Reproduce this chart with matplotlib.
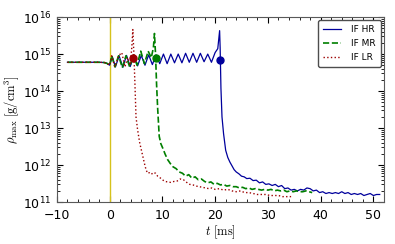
import numpy as np
import matplotlib
matplotlib.use("Agg")
import matplotlib.pyplot as plt
from matplotlib.ticker import MultipleLocator, LogLocator, NullFormatter

plt.rcParams['mathtext.fontset'] = 'cm'
plt.rcParams['font.family'] = 'DejaVu Sans'

# high resolution run
t_hr = [-8, -6, -4, -2, -1, -0.5, 0.0, 0.5, 1.1, 1.8, 2.5, 3.2, 3.9, 4.6, 5.3, 6.0, 6.7,
        7.4, 8.1, 8.8, 9.5, 10.2, 10.9, 11.6, 12.3, 13.0, 13.7, 14.4, 15.1, 15.8, 16.5,
        17.2, 17.9, 18.6, 19.3, 20.0, 20.5, 20.85, 20.95, 21.1, 21.3, 21.6, 22.0, 22.4,
        22.8, 23.2, 23.6, 24.0, 24.5, 25.0, 25.5, 26.0, 26.6, 27.2, 27.8, 28.4, 29.0,
        29.6, 30.2, 30.8, 31.4, 32.0, 32.6, 33.2, 33.8, 34.4, 35.0, 35.6, 36.2, 36.8,
        37.4, 38.0, 38.6, 39.2, 39.8, 40.4, 41.0, 41.6, 42.2, 42.8, 43.4, 44.0, 44.6,
        45.2, 45.8, 46.4, 47.0, 47.6, 48.2, 48.8, 49.4, 50.0, 50.6, 51.2]
rho_hr = [6.0e14, 6.0e14, 6.0e14, 6.0e14, 5.9e14, 5.6e14, 5.0e14, 8.5e14, 4.5e14, 9.0e14,
          4.4e14, 9.2e14, 4.6e14, 9.0e14, 4.8e14, 9.2e14, 5.0e14, 9.5e14, 5.2e14, 9.5e14,
          5.5e14, 1.0e15, 5.5e14, 1.0e15, 5.8e14, 1.0e15, 5.8e14, 1.05e15, 6.0e14, 1.05e15,
          6.0e14, 1.05e15, 6.2e14, 1.0e15, 6.0e14, 1.1e15, 1.4e15, 4.3e15, 1.5e15, 1.2e14,
          2.0e13, 7.0e12, 2.5e12, 1.6e12, 1.2e12, 9.5e11, 7.5e11, 6.5e11, 5.8e11, 5.0e11,
          4.8e11, 4.3e11, 4.4e11, 3.8e11, 3.9e11, 3.3e11, 3.5e11, 3.0e11, 3.1e11, 2.8e11,
          3.0e11, 2.6e11, 2.8e11, 2.3e11, 2.4e11, 2.1e11, 2.2e11, 2.0e11, 2.2e11, 2.1e11,
          2.4e11, 2.3e11, 2.0e11, 2.1e11, 1.8e11, 1.9e11, 1.7e11, 1.8e11, 1.7e11, 1.8e11,
          1.7e11, 1.9e11, 1.7e11, 1.8e11, 1.6e11, 1.7e11, 1.6e11, 1.7e11, 1.5e11, 1.6e11,
          1.7e11, 1.5e11, 1.6e11, 1.6e11]

# medium resolution run
t_mr = [-8, -6, -4, -2, -1, -0.5, 0.0, 0.4, 1.0, 1.7, 2.4, 3.1, 3.8, 4.5, 5.2, 5.9, 6.6,
        7.3, 7.9, 8.3, 8.5, 8.7, 8.9, 9.1, 9.4, 9.7, 10.1, 10.5, 11.0, 11.5, 12.0, 12.6,
        13.2, 13.8, 14.4, 15.0, 15.6, 16.2, 16.8, 17.4, 18.0, 18.6, 19.2, 19.8, 20.4,
        21.0, 21.6, 22.2, 22.8, 23.4, 24.0, 24.6, 25.2, 25.8, 26.4, 27.0, 27.6, 28.2,
        28.8, 29.4, 30.0, 30.6, 31.2, 31.8, 32.4, 33.0, 33.6, 34.2, 34.8, 35.4, 36.0,
        36.6, 37.2, 37.8, 38.4]
rho_mr = [6.0e14, 6.0e14, 6.0e14, 6.0e14, 5.9e14, 5.6e14, 5.0e14, 9.0e14, 4.5e14, 9.0e14,
          4.3e14, 9.0e14, 4.5e14, 9.5e14, 5.0e14, 1.2e15, 5.5e14, 1.2e15, 8.0e14, 1.5e15,
          3.6e15, 1.0e15, 1.5e14, 3.5e13, 6.0e12, 3.8e12, 2.8e12, 2.0e12, 1.4e12, 1.1e12,
          9.0e11, 8.0e11, 6.5e11, 6.0e11, 5.0e11, 5.5e11, 4.4e11, 4.8e11, 4.0e11, 4.2e11,
          3.6e11, 3.3e11, 3.5e11, 3.0e11, 3.2e11, 2.9e11, 3.0e11, 2.7e11, 2.8e11, 2.6e11,
          2.6e11, 2.4e11, 2.5e11, 2.3e11, 2.4e11, 2.2e11, 2.3e11, 2.2e11, 2.1e11, 2.2e11,
          2.1e11, 2.2e11, 2.0e11, 2.1e11, 2.0e11, 2.1e11, 1.9e11, 2.0e11, 1.9e11, 2.0e11,
          1.9e11, 1.9e11, 2.0e11, 1.9e11, 1.8e11]

# low resolution run
t_lr = [-8, -6, -4, -2, -1, -0.5, 0.0, 0.4, 1.0, 1.7, 2.3, 2.9, 3.4, 3.9, 4.2, 4.4, 4.6,
        4.8, 5.0, 5.3, 5.7, 6.0, 6.3, 6.6, 6.9, 7.2, 7.5, 7.9, 8.3, 8.7, 9.1, 9.5, 10.0,
        10.5, 11.0, 11.6, 12.2, 12.8, 13.4, 14.0, 14.6, 15.2, 15.8, 16.4, 17.0, 17.6,
        18.2, 18.8, 19.4, 20.0, 20.8, 21.6, 22.4, 23.2, 24.0, 24.8, 25.6, 26.4, 27.2,
        28.0, 28.8, 29.6, 30.4, 31.2, 32.0, 32.8, 33.6, 34.4]
rho_lr = [6.0e14, 6.0e14, 6.0e14, 6.0e14, 5.9e14, 5.6e14, 5.0e14, 9.0e14, 4.5e14, 9.0e14,
          1.1e15, 4.5e14, 8.0e14, 5.0e14, 1.5e15, 4.6e15, 1.0e15, 1.5e14, 2.0e13, 9.0e12,
          4.0e12, 2.6e12, 1.7e12, 1.1e12, 7.5e11, 6.0e11, 6.2e11, 5.6e11, 6.3e11, 6.0e11,
          5.0e11, 4.6e11, 4.0e11, 3.6e11, 3.5e11, 3.4e11, 3.6e11, 3.7e11, 4.2e11, 4.0e11,
          3.4e11, 3.0e11, 2.9e11, 2.7e11, 2.6e11, 2.5e11, 2.4e11, 2.3e11, 2.4e11, 2.2e11,
          2.3e11, 2.1e11, 2.2e11, 2.0e11, 1.9e11, 2.0e11, 1.8e11, 1.8e11, 1.7e11, 1.6e11,
          1.6e11, 1.6e11, 1.5e11, 1.5e11, 1.5e11, 1.4e11, 1.4e11, 1.4e11]

# merger markers
t_mark = [21.0, 8.7, 4.4]
rho_mark = [6.9e14, 8.0e14, 8.0e14]

labels = ['IF HR', 'IF MR', 'IF LR']
colors = ['#00009c', '#007f00', '#9c0000']

fig = plt.figure(figsize=(3.95, 2.44), dpi=100)
ax = fig.add_axes([0.144, 0.172, 0.828, 0.758])

ax.axvline(0, color='#d6c21c', lw=1)
ax.plot(t_hr, rho_hr, '-', color=colors[0], lw=0.9, label=labels[0])
ax.plot(t_mr, rho_mr, '--', color=colors[1], lw=1.2, label=labels[1])
ax.plot(t_lr, rho_lr, ':', color=colors[2], lw=1.0, label=labels[2])
for t, r, c in zip(t_mark, rho_mark, colors):
    ax.plot(t, r, 'o', color=c, ms=5, zorder=5)

ax.set_yscale('log')
ax.set_xlim(-10, 52)
ax.set_ylim(1e11, 1e16)
ax.xaxis.set_major_locator(MultipleLocator(10))
ax.xaxis.set_minor_locator(MultipleLocator(2))
ax.yaxis.set_major_locator(LogLocator(base=10, numticks=10))
ax.yaxis.set_minor_locator(LogLocator(base=10, subs=np.arange(2, 10), numticks=20))
ax.yaxis.set_minor_formatter(NullFormatter())
ax.tick_params(which='both', direction='in', top=True, right=True, labelsize=9)
ax.tick_params(which='major', length=4)
ax.tick_params(which='minor', length=2)
ax.tick_params(axis='x', pad=5)
ax.tick_params(axis='y', pad=4)
for s in ax.spines.values():
    s.set_color('0.35')

ax.set_xlabel(r'$t\ [\mathrm{ms}]$', fontsize=9, labelpad=1)
ax.set_ylabel(r'$\rho_{\mathrm{max}}\ [\mathrm{g/cm^3}]$', fontsize=9, labelpad=1)

leg = ax.legend(loc='upper right', fontsize=6.5, handlelength=2.0, handletextpad=1.1,
                fancybox=True, framealpha=1, borderpad=0.55, labelspacing=0.55,
                borderaxespad=0.35)
leg.get_frame().set_edgecolor('0.3')

fig.savefig('out.png', dpi=100)
